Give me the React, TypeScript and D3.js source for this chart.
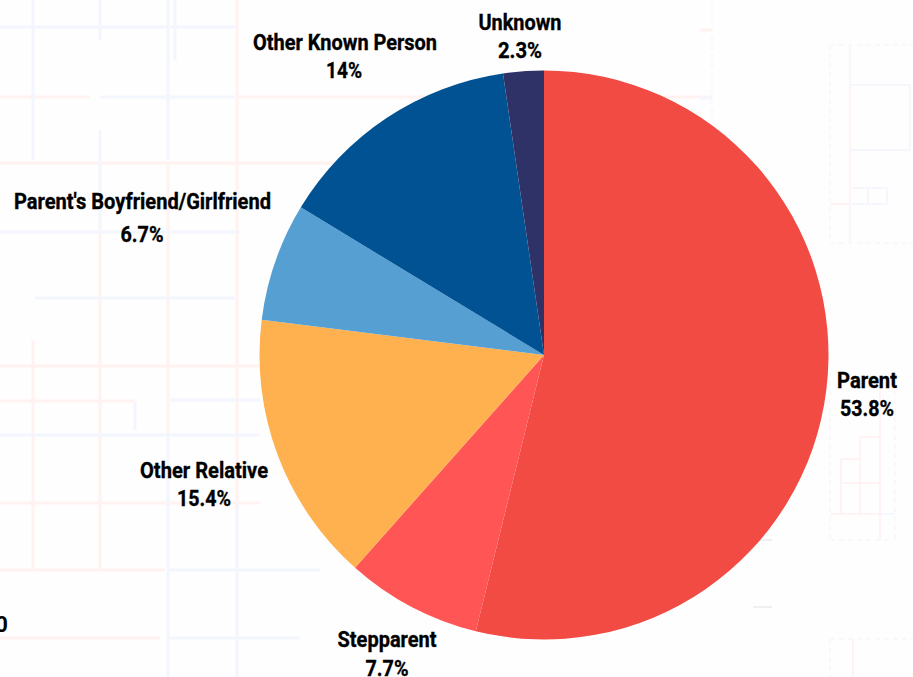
import React from "react";
import * as d3 from "d3";

const categories = ["Parent", "Stepparent", "Other Relative", "Parent's Boyfriend/Girlfriend", "Other Known Person", "Unknown"];
const percents = [53.8, 7.7, 15.4, 6.7, 14, 2.3];
const colors = ["#F14B44", "#FF5555", "#FFB04F", "#569FD3", "#005293", "#2E3267"];
const labelNames = ["Parent", "Stepparent", "Other Relative", "Parent's Boyfriend/Girlfriend", "Other Known Person", "Unknown"];
const labelNameCx = [867, 387, 204, 142.5, 345, 520];
const labelNameY = [388, 647, 478, 209, 50, 30];
const labelValueCx = [867, 387, 204, 142, 344, 520];
const labelValueY = [416, 676, 506, 242, 78, 58];
const labelNameW = [60, 99, 128, 257, 184, 83];
const labelValueW = [54, 43, 54, 43, 36, 44];

// faint street-map backdrop: [x1,y1,x2,y2]
const pinkRoads = [
  [0,97,90,97],[237,97,712,97],[0,163,712,163],[237,0,237,677],[100,232,100,570],[33,340,33,570],
  [0,366,260,366],[0,401,135,401],[0,503,260,503],[0,570,165,570],[0,638,160,638],[168,163,168,232],[100,163,100,232],[168,232,168,435],
  [700,30,712,30]
];
const blueRoads = [
  [33,0,33,160],[100,0,100,40],[100,130,100,230],[168,0,168,160],[175,0,175,60],[0,27,235,27],[100,97,235,97],
  [0,232,240,232],[35,298,235,298],[0,435,260,435],[170,400,260,400],[135,401,135,430],[170,570,320,570],[168,435,168,677],[237,503,237,677],
  [168,638,300,638],[700,98,712,98]
];
const thinPink = [[850,85,850,204],[830,204,850,204],[880,385,880,540],[860,437,860,514],[841,459,841,514],[860,437,880,437],[841,459,860,459],[841,483,880,483],[830,514,880,514],[853,639,853,677]];
const thinBlue = [[850,45,850,85],[850,85,910,85],[910,85,910,150],[850,150,910,150],[852,188,887,188],[887,188,887,204],[868,188,868,204],[852,204,887,204],[850,205,850,243],[880,514,895,514]];
const grayRoads = [[830,45,913,45],[830,45,830,243],[830,243,913,243],[830,372,830,540],[895,372,895,540],[830,540,895,540],[830,639,913,639],[830,639,830,677],[712,0,712,120]];
const grayTicks = [[753,540,772,540],[753,607,772,607]];

const cx = 544, cy = 355, radius = 284.5;

function Label({ text, x, y, w, size }: { text: string; x: number; y: number; w: number; size: number }) {
  return (
    <text x={x - w / 2} y={y} textLength={w} lengthAdjust="spacingAndGlyphs"
      fontFamily="Roboto, sans-serif" fontWeight={700} fontSize={size} fill="#000" stroke="#000" strokeWidth={0.35}>{text}</text>
  );
}

export default function App() {
  const pie = d3.pie<number>().sort(null)(percents);
  const arc = d3.arc<d3.PieArcDatum<number>>().innerRadius(0).outerRadius(radius);
  const roads = (list: number[][], stroke: string, w: number, dash?: string) =>
    list.map((r, i) => <line key={i} x1={r[0]} y1={r[1]} x2={r[2]} y2={r[3]} stroke={stroke} strokeWidth={w} strokeDasharray={dash} />);
  return (
    <svg width={913} height={677} style={{ position: "fixed", left: 0, top: 0 }}>
      <rect width={913} height={677} fill="#FEFEFE" />
      <g>{roads(pinkRoads, "#FFF2F0", 3)}</g>
      <g>{roads(blueRoads, "#F3F6FD", 3)}</g>
      <g>{roads(thinPink, "#FFF1EF", 1.5)}</g>
      <g>{roads(thinBlue, "#F2F5FD", 1.5)}</g>
      <g>{roads(grayRoads, "#F7F7F7", 1.5, "5 4")}</g>
      <g>{roads(grayTicks, "#F0F0F0", 2)}</g>
      <g transform={`translate(${cx},${cy})`}>
        {pie.map((p, i) => <path key={categories[i]} d={arc(p) ?? ""} fill={colors[i]} />)}
      </g>
      {labelNames.map((n, i) => (
        <g key={n}>
          <Label text={n} x={labelNameCx[i]} y={labelNameY[i]} w={labelNameW[i]} size={22.5} />
          <Label text={percents[i] + "%"} x={labelValueCx[i]} y={labelValueY[i]} w={labelValueW[i]} size={22.5} />
        </g>
      ))}
      <text x={8} y={632} textAnchor="end" fontFamily="Roboto, sans-serif" fontWeight={700} fontSize={22.5}>0</text>
    </svg>
  );
}
